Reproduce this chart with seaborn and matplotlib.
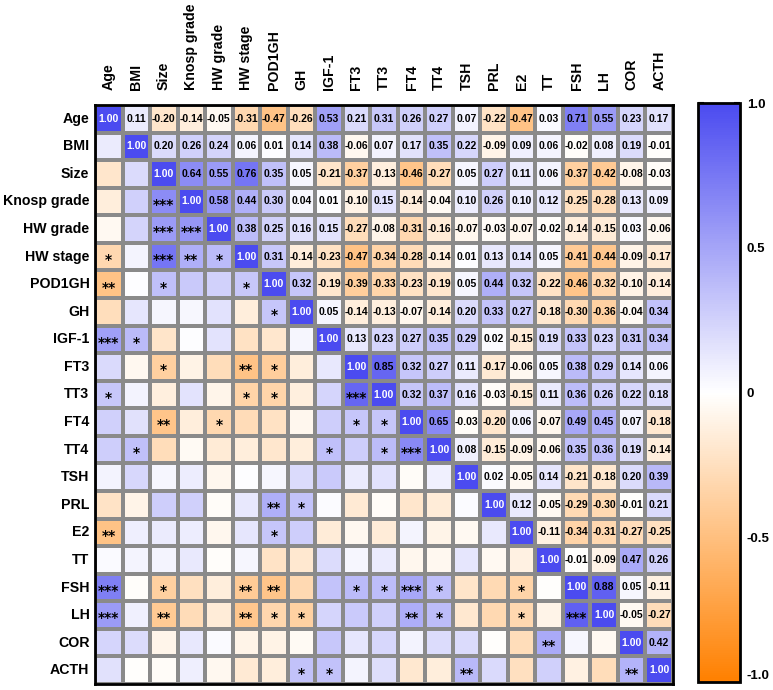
import numpy as np
import pandas as pd
import matplotlib
matplotlib.use("Agg")
import matplotlib.pyplot as plt
import seaborn as sns
from matplotlib.colors import LinearSegmentedColormap

labels = ["Age", "BMI", "Size", "Knosp grade", "HW grade", "HW stage", "POD1GH", "GH",
          "IGF-1", "FT3", "TT3", "FT4", "TT4", "TSH", "PRL", "E2", "TT", "FSH", "LH",
          "COR", "ACTH"]

# upper triangle, row i: correlations with columns i+1 ... end
upper_rows = [
    [0.11, -0.20, -0.14, -0.05, -0.31, -0.47, -0.26, 0.53, 0.21, 0.31, 0.26, 0.27, 0.07, -0.22, -0.47, 0.03, 0.71, 0.55, 0.23, 0.17],
    [0.20, 0.26, 0.24, 0.06, 0.01, 0.14, 0.38, -0.06, 0.07, 0.17, 0.35, 0.22, -0.09, 0.09, 0.06, -0.02, 0.08, 0.19, -0.01],
    [0.64, 0.55, 0.76, 0.35, 0.05, -0.21, -0.37, -0.13, -0.46, -0.27, 0.05, 0.27, 0.11, 0.06, -0.37, -0.42, -0.08, -0.03],
    [0.58, 0.44, 0.30, 0.04, 0.01, -0.10, 0.15, -0.14, -0.04, 0.10, 0.26, 0.10, 0.12, -0.25, -0.28, 0.13, 0.09],
    [0.38, 0.25, 0.16, 0.15, -0.27, -0.08, -0.31, -0.16, -0.07, -0.03, -0.07, -0.02, -0.14, -0.15, 0.03, -0.06],
    [0.31, -0.14, -0.23, -0.47, -0.34, -0.28, -0.14, 0.01, 0.13, 0.14, 0.05, -0.41, -0.44, -0.09, -0.17],
    [0.32, -0.19, -0.39, -0.33, -0.23, -0.19, 0.05, 0.44, 0.32, -0.22, -0.46, -0.32, -0.10, -0.14],
    [0.05, -0.14, -0.13, -0.07, -0.14, 0.20, 0.33, 0.27, -0.18, -0.30, -0.36, -0.04, 0.34],
    [0.13, 0.23, 0.27, 0.35, 0.29, 0.02, -0.15, 0.19, 0.33, 0.23, 0.31, 0.34],
    [0.85, 0.32, 0.27, 0.11, -0.17, -0.06, 0.05, 0.38, 0.29, 0.14, 0.06],
    [0.32, 0.37, 0.16, -0.03, -0.15, 0.11, 0.36, 0.26, 0.22, 0.18],
    [0.65, -0.03, -0.20, 0.06, -0.07, 0.49, 0.45, 0.07, -0.18],
    [0.08, -0.15, -0.09, -0.06, 0.35, 0.36, 0.19, -0.14],
    [0.02, -0.05, 0.14, -0.21, -0.18, 0.20, 0.39],
    [0.12, -0.05, -0.29, -0.30, -0.01, 0.21],
    [-0.11, -0.34, -0.31, -0.27, -0.25],
    [-0.01, -0.09, 0.47, 0.26],
    [0.88, 0.05, -0.11],
    [-0.05, -0.27],
    [0.42],
]

# significance marks in lower triangle: (row label, column label, stars)
significance = [
    ("Knosp grade", "Size", "***"),
    ("HW grade", "Size", "***"), ("HW grade", "Knosp grade", "***"),
    ("HW stage", "Age", "*"), ("HW stage", "Size", "***"), ("HW stage", "Knosp grade", "**"),
    ("HW stage", "HW grade", "*"),
    ("POD1GH", "Age", "**"), ("POD1GH", "Size", "*"), ("POD1GH", "HW stage", "*"),
    ("GH", "POD1GH", "*"),
    ("IGF-1", "Age", "***"), ("IGF-1", "BMI", "*"),
    ("FT3", "Size", "*"), ("FT3", "HW stage", "**"), ("FT3", "POD1GH", "*"),
    ("TT3", "Age", "*"), ("TT3", "HW stage", "*"), ("TT3", "POD1GH", "*"), ("TT3", "FT3", "***"),
    ("FT4", "Size", "**"), ("FT4", "HW grade", "*"), ("FT4", "FT3", "*"), ("FT4", "TT3", "*"),
    ("TT4", "BMI", "*"), ("TT4", "IGF-1", "*"), ("TT4", "TT3", "*"), ("TT4", "FT4", "***"),
    ("PRL", "POD1GH", "**"), ("PRL", "GH", "*"),
    ("E2", "Age", "**"), ("E2", "POD1GH", "*"),
    ("FSH", "Age", "***"), ("FSH", "Size", "*"), ("FSH", "HW stage", "**"), ("FSH", "POD1GH", "**"),
    ("FSH", "FT3", "*"), ("FSH", "TT3", "*"), ("FSH", "FT4", "***"), ("FSH", "TT4", "*"),
    ("FSH", "E2", "*"),
    ("LH", "Age", "***"), ("LH", "Size", "**"), ("LH", "HW stage", "**"), ("LH", "POD1GH", "*"),
    ("LH", "GH", "*"), ("LH", "FT4", "**"), ("LH", "TT4", "*"), ("LH", "E2", "*"), ("LH", "FSH", "***"),
    ("COR", "TT", "**"),
    ("ACTH", "GH", "*"), ("ACTH", "IGF-1", "*"), ("ACTH", "TSH", "**"), ("ACTH", "COR", "**"),
]

cbar_ticks = [-1.0, -0.5, 0.0, 0.5, 1.0]
cbar_ticklabels = ["-1.0", "-0.5", "0", "0.5", "1.0"]

n = len(labels)
M = np.eye(n)
for i, row in enumerate(upper_rows):
    for k, v in enumerate(row):
        j = i + 1 + k
        M[i, j] = v
        M[j, i] = v
df = pd.DataFrame(M, index=labels, columns=labels)

annot = np.full((n, n), "", dtype=object)
for i in range(n):
    for j in range(i, n):
        annot[i, j] = f"{M[i, j]:.2f}"

cmap = LinearSegmentedColormap.from_list("ob", ["#FF8000", "#FFFFFF", "#4B4BF0"])

sns.set_theme(style="white")
plt.rcParams["font.family"] = ["Liberation Sans", "DejaVu Sans"]

fig = plt.figure(figsize=(7.73, 6.90), dpi=100)
ax = fig.add_axes([95 / 773, 1 - 684 / 690, 578 / 773, 579 / 690])
cax = fig.add_axes([698 / 773, 1 - 682 / 690, 42 / 773, 579 / 690])

sns.heatmap(df, ax=ax, cbar_ax=cax, cmap=cmap, vmin=-1, vmax=1,
            annot=annot, fmt="", linewidths=1.6, linecolor="#8a8a8a",
            annot_kws={"fontsize": 7.5, "fontweight": "bold"},
            cbar_kws={"ticks": cbar_ticks})

for t in ax.texts:
    t.set_color("white" if t.get_text() == "1.00" else "black")

idx = {l: k for k, l in enumerate(labels)}
for r, c, s in significance:
    ax.text(idx[c] + 0.5, idx[r] + 0.62, s, ha="center", va="center",
            fontsize=10, fontweight="bold", color="black", family="DejaVu Sans")

ax.xaxis.tick_top()
ax.set_xticks(np.arange(n) + 0.5)
ax.set_xticklabels(labels, rotation=90, fontsize=10.2, fontweight="bold", color="black")
ax.set_yticks(np.arange(n) + 0.5)
ax.set_yticklabels(labels, rotation=0, fontsize=10.2, fontweight="bold", color="black")
ax.tick_params(axis="x", length=0, pad=11)
ax.tick_params(axis="y", length=0, pad=4)
ax.set_xlabel("")
ax.set_ylabel("")
for sp in ax.spines.values():
    sp.set_visible(True)
    sp.set_color("black")
    sp.set_linewidth(2)

cax.set_yticks(cbar_ticks)
cax.set_yticklabels(cbar_ticklabels, fontsize=9.5, fontweight="bold", color="black")
cax.tick_params(axis="y", which="both", direction="in", length=4, width=1.5,
                left=True, right=True, labelleft=False, labelright=True, pad=5, color="black")
cbar = ax.collections[0].colorbar
cbar.outline.set_edgecolor("black")
cbar.outline.set_linewidth(2)
tl = cax.get_yticklabels()
tl[0].set_va("bottom")

fig.savefig("out.png", dpi=100)
